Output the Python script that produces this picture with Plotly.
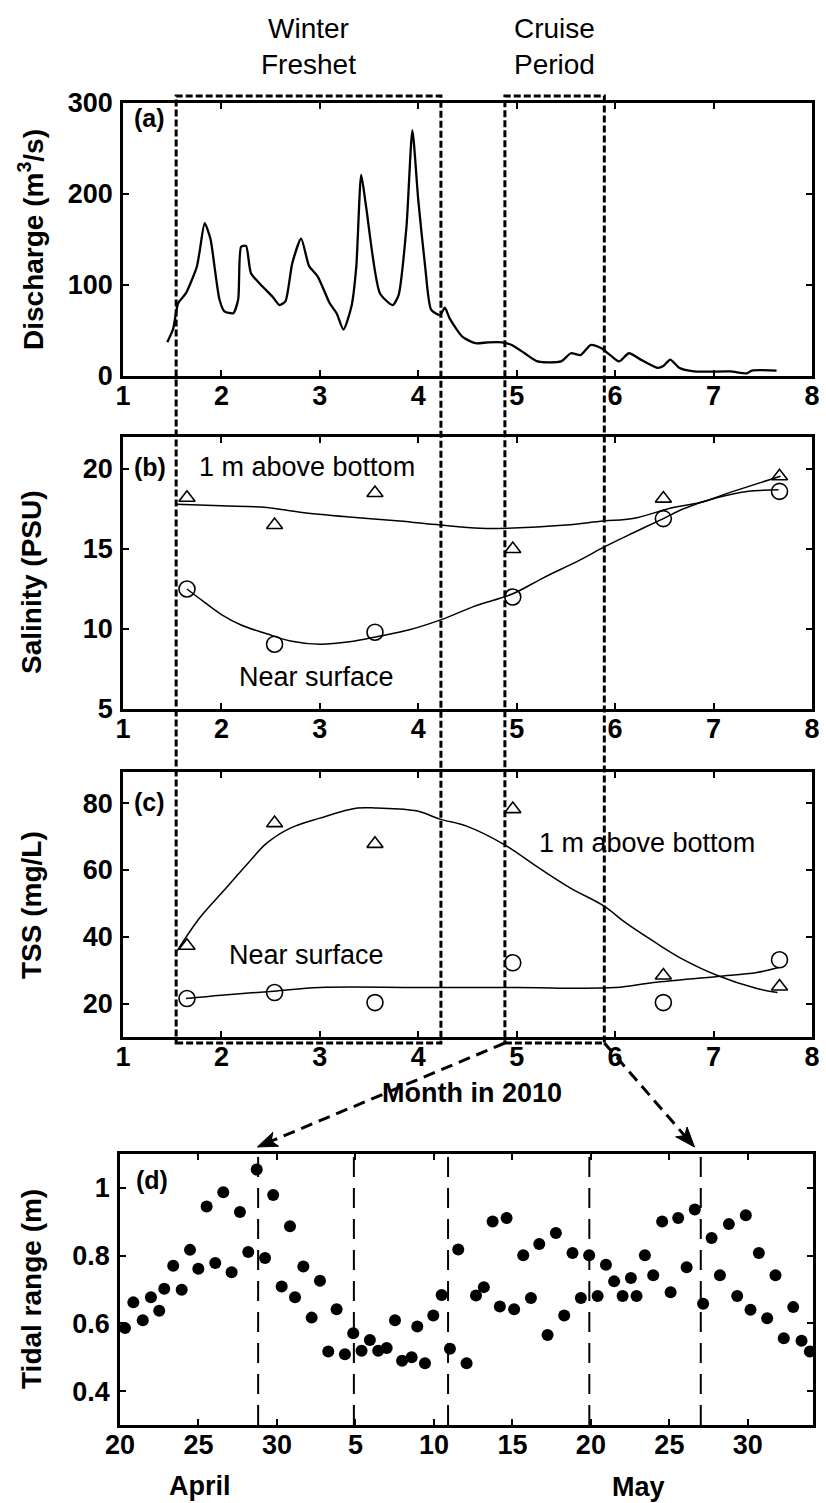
import plotly.graph_objects as go

W, H = 826, 1503
FONT = "Liberation Sans, Arial, Helvetica, sans-serif"

# ---------------- data ----------------
# (a) river discharge, decimal month of 2010
discharge_month = [1.45, 1.51, 1.56, 1.64, 1.75, 1.78, 1.83, 1.89, 1.93, 1.98, 2.03, 2.12,
                   2.17, 2.20, 2.25, 2.30, 2.42, 2.52, 2.59, 2.65, 2.72, 2.81, 2.89, 2.98,
                   3.10, 3.17, 3.24, 3.32, 3.37, 3.42, 3.47, 3.61, 3.74, 3.80, 3.88, 3.94,
                   4.00, 4.07, 4.13, 4.22, 4.27, 4.32, 4.45, 4.58, 4.71, 4.85, 4.95, 5.08,
                   5.21, 5.45, 5.55, 5.65, 5.75, 5.85, 5.95, 6.04, 6.14, 6.26, 6.43, 6.49,
                   6.56, 6.65, 6.80, 7.17, 7.34, 7.39, 7.64]
discharge_m3s = [37, 52, 80, 91, 120, 138, 168, 150, 120, 84, 71, 69,
                 84, 142, 143, 113, 98, 87, 78, 82, 124, 151, 121, 109,
                 80, 69, 51, 76, 120, 221, 186, 91, 78, 89, 164, 270,
                 193, 120, 73, 67, 75, 63, 43, 36, 37, 37, 34, 25,
                 16, 16, 25, 23, 34, 31, 23, 16, 25, 18, 9, 11,
                 18, 9, 5, 5, 3, 6, 6]

# (b), (c) cruise samples
sample_month = [1.65, 2.54, 3.56, 4.96, 6.49, 7.67]
salinity_bottom = [18.2, 16.5, 18.5, 15.0, 18.15, 19.55]
salinity_surface = [12.5, 9.05, 9.8, 12.0, 16.9, 18.6]
tss_bottom = [37.3, 74.0, 67.8, 78.2, 28.4, 25.1]
tss_surface = [21.5, 23.3, 20.3, 32.2, 20.3, 33.1]

# smoothed fits through the samples
sal_bottom_fit_month = [1.54, 2.0, 2.46, 2.8, 3.3, 3.81, 4.22, 4.63, 4.9, 5.5, 5.88, 6.18,
                        6.59, 6.86, 7.2, 7.68]
sal_bottom_fit = [17.8, 17.7, 17.6, 17.3, 17.0, 16.75, 16.5, 16.3, 16.3, 16.5, 16.75, 16.9,
                  17.6, 17.9, 18.6, 19.55]
sal_surface_fit_month = [1.65, 1.8, 2.0, 2.2, 2.46, 2.7, 3.0, 3.3, 3.6, 3.91, 4.24, 4.56,
                         4.96, 5.27, 5.64, 5.88, 6.18, 6.49, 6.69, 7.03, 7.34, 7.66]
sal_surface_fit = [12.5, 11.8, 10.9, 10.25, 9.7, 9.25, 9.05, 9.2, 9.55, 9.95, 10.6, 11.4,
                   12.2, 13.2, 14.3, 15.1, 16.0, 16.9, 17.5, 18.2, 18.6, 18.7]
tss_bottom_fit_month = [1.55, 1.78, 2.02, 2.29, 2.46, 2.7, 3.0, 3.38, 3.58, 3.99, 4.22, 4.49,
                        4.86, 5.24, 5.55, 5.88, 6.12, 6.46, 6.66, 7.04, 7.44, 7.65]
tss_bottom_fit = [35.8, 45.7, 53.7, 62.7, 68.0, 72.5, 75.5, 78.5, 78.5, 77.6, 75.2, 73.1,
                  67.8, 60.3, 54.5, 49.3, 43.9, 37.3, 33.7, 28.4, 24.5, 23.3]
tss_surface_fit_month = [1.64, 2.0, 2.53, 3.0, 4.0, 5.0, 6.0, 6.39, 7.04, 7.44, 7.66]
tss_surface_fit = [21.5, 22.5, 23.7, 24.8, 24.8, 24.8, 24.8, 26.3, 28.1, 29.3, 30.8]

# (d) tidal range, day of year 2010 (110 = 20 April)
tide_doy = [110.32, 110.85, 111.45, 111.97, 112.50, 112.82, 113.39, 113.93, 114.46, 114.99,
            115.52, 116.07, 116.58, 117.11, 117.64, 118.17, 118.71, 119.24, 119.76, 120.30,
            120.83, 121.15, 121.68, 122.21, 122.74, 123.27, 123.80, 124.33, 124.86, 125.39,
            125.92, 126.45, 126.99, 127.52, 127.97, 128.58, 128.94, 129.43, 129.96, 130.49,
            131.02, 131.55, 132.08, 132.68, 133.18, 133.74, 134.20, 134.63, 135.11, 135.69,
            136.18, 136.71, 137.24, 137.77, 138.30, 138.83, 139.36, 139.89, 140.43, 140.96,
            141.48, 142.02, 142.55, 142.91, 143.44, 143.97, 144.54, 145.08, 145.56, 146.10,
            146.62, 147.15, 147.69, 148.22, 148.79, 149.32, 149.87, 150.17, 150.70, 151.23,
            151.76, 152.29, 152.89, 153.42, 153.95]
tide_range_m = [0.586, 0.662, 0.609, 0.677, 0.637, 0.702, 0.770, 0.699, 0.817, 0.761,
                0.945, 0.778, 0.987, 0.751, 0.929, 0.811, 1.054, 0.793, 0.979, 0.709,
                0.887, 0.677, 0.768, 0.617, 0.726, 0.517, 0.642, 0.509, 0.571, 0.519,
                0.551, 0.519, 0.527, 0.609, 0.490, 0.500, 0.591, 0.482, 0.623, 0.684,
                0.525, 0.818, 0.482, 0.682, 0.707, 0.901, 0.650, 0.911, 0.642, 0.801,
                0.675, 0.834, 0.566, 0.867, 0.623, 0.808, 0.675, 0.801, 0.681, 0.773,
                0.724, 0.681, 0.734, 0.681, 0.801, 0.742, 0.901, 0.692, 0.911, 0.766,
                0.936, 0.658, 0.852, 0.742, 0.893, 0.681, 0.919, 0.640, 0.808, 0.615,
                0.742, 0.556, 0.648, 0.549, 0.517]
tide_marker_doy = [118.8, 124.9, 130.9, 139.9, 147.0]

month_ticks = [1, 2, 3, 4, 5, 6, 7, 8]
tide_tick_doy = [110, 115, 120, 125, 130, 135, 140, 145, 150]
tide_tick_text = ["20", "25", "30", "5", "10", "15", "20", "25", "30"]

freshet_period = (1.54, 4.23)
cruise_period = (4.88, 5.89)
cruise_days = (118.75, 146.6)

# ---------------- layout geometry (pixels) ----------------
def fx(p):
    return p / W


def fy(p):
    return 1 - p / H


X_DOM = [fx(123), fx(812)]
X_DOM_D = [fx(120), fx(813)]
Y_DOM = {
    "a": [fy(376), fy(103)],
    "b": [fy(709), fy(437)],
    "c": [fy(1037), fy(772)],
    "d": [fy(1425), fy(1154)],
}
MONTH_RANGE = [1, 8]
DOY_RANGE = [110, 154.15]


def to_paper(v, dom, rng):
    return dom[0] + (v - rng[0]) / (rng[1] - rng[0]) * (dom[1] - dom[0])


tick_font = dict(family=FONT, size=27, color="black", weight="bold")
axis_common = dict(showline=True, linecolor="black", linewidth=2.5, mirror="ticks",
                   ticks="inside", ticklen=6, tickwidth=2, tickcolor="black",
                   showgrid=False, zeroline=False, tickfont=tick_font, automargin=False)
xstyle = dict(axis_common, ticklabelstandoff=-6)
ystyle = dict(axis_common, ticklabelstandoff=2)

fig = go.Figure()

line_thin = dict(color="black", width=1.5)
tri = dict(symbol="triangle-up-open", size=14, color="black", line=dict(width=1.6, color="black"))
circ = dict(symbol="circle-open", size=16, color="black", line=dict(width=1.6, color="black"))

# (a)
fig.add_trace(go.Scatter(x=discharge_month, y=discharge_m3s, mode="lines",
                         line=dict(color="black", width=2.3, shape="spline", smoothing=0.6),
                         xaxis="x", yaxis="y"))
# (b)
fig.add_trace(go.Scatter(x=sal_bottom_fit_month, y=sal_bottom_fit, mode="lines",
                         line=dict(line_thin, shape="spline"), xaxis="x2", yaxis="y2"))
fig.add_trace(go.Scatter(x=sal_surface_fit_month, y=sal_surface_fit, mode="lines",
                         line=dict(line_thin, shape="spline"), xaxis="x2", yaxis="y2"))
fig.add_trace(go.Scatter(x=sample_month, y=salinity_bottom, mode="markers", marker=tri,
                         xaxis="x2", yaxis="y2"))
fig.add_trace(go.Scatter(x=sample_month, y=salinity_surface, mode="markers", marker=circ,
                         xaxis="x2", yaxis="y2"))
# (c)
fig.add_trace(go.Scatter(x=tss_bottom_fit_month, y=tss_bottom_fit, mode="lines",
                         line=dict(line_thin, shape="spline"), xaxis="x3", yaxis="y3"))
fig.add_trace(go.Scatter(x=tss_surface_fit_month, y=tss_surface_fit, mode="lines",
                         line=dict(line_thin, shape="spline"), xaxis="x3", yaxis="y3"))
fig.add_trace(go.Scatter(x=sample_month, y=tss_bottom, mode="markers", marker=tri,
                         xaxis="x3", yaxis="y3"))
fig.add_trace(go.Scatter(x=sample_month, y=tss_surface, mode="markers", marker=circ,
                         xaxis="x3", yaxis="y3"))
# (d)
fig.add_trace(go.Scatter(x=tide_doy, y=tide_range_m, mode="markers",
                         marker=dict(symbol="circle", size=12, color="black"),
                         xaxis="x4", yaxis="y4"))

fig.update_layout(
    template="none",
    width=W, height=H, margin=dict(l=0, r=0, t=0, b=0, autoexpand=False),
    paper_bgcolor="white", plot_bgcolor="white", showlegend=False,
    xaxis=dict(xstyle, domain=X_DOM, range=MONTH_RANGE, anchor="y", tickvals=month_ticks),
    yaxis=dict(ystyle, domain=Y_DOM["a"], range=[0, 300], anchor="x",
               tickvals=[0, 100, 200, 300]),
    xaxis2=dict(xstyle, domain=X_DOM, range=MONTH_RANGE, anchor="y2", tickvals=month_ticks),
    yaxis2=dict(ystyle, domain=Y_DOM["b"], range=[5, 22], anchor="x2",
                tickvals=[5, 10, 15, 20]),
    xaxis3=dict(xstyle, domain=X_DOM, range=MONTH_RANGE, anchor="y3", tickvals=month_ticks),
    yaxis3=dict(ystyle, domain=Y_DOM["c"], range=[10, 89.3], anchor="x3",
                tickvals=[20, 40, 60, 80]),
    xaxis4=dict(xstyle, domain=X_DOM_D, range=DOY_RANGE, anchor="y4",
                tickvals=tide_tick_doy, ticktext=tide_tick_text),
    yaxis4=dict(ystyle, domain=Y_DOM["d"], range=[0.3, 1.1], anchor="x4",
                tickvals=[0.4, 0.6, 0.8, 1.0], ticktext=["0.4", "0.6", "0.8", "1"]),
)

shapes = []
box_line = dict(color="black", width=3, dash="7px,3px")
for x0, x1 in (freshet_period, cruise_period):
    shapes.append(dict(type="rect", xref="x", yref="paper", x0=x0, x1=x1,
                       y0=fy(1043), y1=fy(96), line=box_line, layer="above"))

for d in tide_marker_doy:
    shapes.append(dict(type="line", xref="x4", yref="y4 domain", x0=d, x1=d, y0=0, y1=1,
                       line=dict(color="black", width=2, dash="20px,11px")))

# dashed arrows from the cruise box down to panel (d), with filled heads
tail_py, tip_py = 1043, 1147
for m, d in zip(cruise_period, cruise_days):
    tail_px = to_paper(m, X_DOM, MONTH_RANGE) * W
    tip_px = to_paper(d, X_DOM_D, DOY_RANGE) * W
    ux, uy = tail_px - tip_px, tail_py - tip_py
    n = (ux ** 2 + uy ** 2) ** 0.5
    ux, uy = ux / n, uy / n
    head_len, half_w = 20, 7.5
    bx, by = tip_px + ux * head_len, tip_py + uy * head_len
    nbx, nby = tip_px + ux * head_len * 0.75, tip_py + uy * head_len * 0.75
    shapes.append(dict(type="line", xref="paper", yref="paper",
                       x0=fx(tail_px), y0=fy(tail_py), x1=fx(nbx), y1=fy(nby),
                       line=dict(color="black", width=3, dash="12px,7px")))
    pts = [(tip_px, tip_py),
           (bx - uy * half_w, by + ux * half_w),
           (nbx, nby),
           (bx + uy * half_w, by - ux * half_w)]
    path = "M " + " L ".join(f"{fx(a):.5f},{fy(b):.5f}" for a, b in pts) + " Z"
    shapes.append(dict(type="path", xref="paper", yref="paper", path=path,
                       fillcolor="black", line=dict(color="black", width=1)))

fig.update_layout(shapes=shapes)

annotations = []


def label(text, x, y, size=27, weight="normal", xanchor="center", angle=0):
    annotations.append(dict(text=text, x=fx(x), y=fy(y), xref="paper", yref="paper",
                            showarrow=False, xanchor=xanchor, yanchor="middle",
                            textangle=angle,
                            font=dict(family=FONT, size=size, color="black", weight=weight)))


def box_center_px(period):
    return sum(to_paper(v, X_DOM, MONTH_RANGE) for v in period) / 2 * W


label("Winter<br>Freshet", box_center_px(freshet_period), 46, size=28)
label("Cruise<br>Period", box_center_px(cruise_period), 46, size=28)

label("(a)", 132, 118, size=25, weight="bold", xanchor="left")
label("(b)", 132, 467, size=25, weight="bold", xanchor="left")
label("(c)", 132, 802, size=25, weight="bold", xanchor="left")
label("(d)", 134, 1180, size=25, weight="bold", xanchor="left")

label("1 m above bottom", 197, 467, xanchor="left")
label("Near surface", 237, 677, xanchor="left")
label("1 m above bottom", 537, 843, xanchor="left")
label("Near surface", 227, 955, xanchor="left")

label("Month in 2010", 472, 1093, size=27, weight="bold")
label("April", 200, 1486, size=27, weight="bold")
label("May", 638, 1487, size=27, weight="bold")

label("Discharge (m<sup>3</sup>/s)", 31, 240, size=28, weight="bold", angle=-90)
label("Salinity (PSU)", 31, 582, size=28, weight="bold", angle=-90)
label("TSS (mg/L)", 31, 905, size=28, weight="bold", angle=-90)
label("Tidal range (m)", 31, 1289, size=28, weight="bold", angle=-90)

fig.update_layout(annotations=annotations)

fig.write_html("out.html")
